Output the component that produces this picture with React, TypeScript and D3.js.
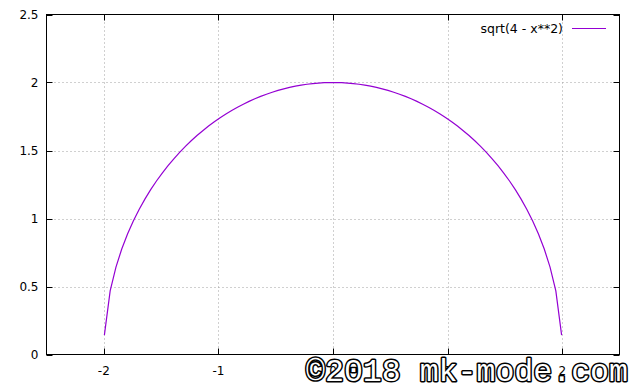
import React from "react";
import * as d3 from "d3";

const xTicks = [-2, -1, 0, 1, 2];
const yTicks = [0, 0.5, 1, 1.5, 2, 2.5];
const yTickLabels = ["0", "0.5", "1", "1.5", "2", "2.5"];
const xTickLabels = ["-2", "-1", "0", "1", "2"];
const seriesName = "sqrt(4 - x**2)";

const xs = [
  -1.99495, -1.94444, -1.89394, -1.84343, -1.79293, -1.74242, -1.69192, -1.64141, -1.59091, -1.5404,
  -1.4899, -1.43939, -1.38889, -1.33838, -1.28788, -1.23737, -1.18687, -1.13636, -1.08586, -1.03535,
  -0.98485, -0.93434, -0.88384, -0.83333, -0.78283, -0.73232, -0.68182, -0.63131, -0.58081, -0.5303,
  -0.4798, -0.42929, -0.37879, -0.32828, -0.27778, -0.22727, -0.17677, -0.12626, -0.07576, -0.02525,
  0.02525, 0.07576, 0.12626, 0.17677, 0.22727, 0.27778, 0.32828, 0.37879, 0.42929, 0.4798,
  0.5303, 0.58081, 0.63131, 0.68182, 0.73232, 0.78283, 0.83333, 0.88384, 0.93434, 0.98485,
  1.03535, 1.08586, 1.13636, 1.18687, 1.23737, 1.28788, 1.33838, 1.38889, 1.43939, 1.4899,
  1.5404, 1.59091, 1.64141, 1.69192, 1.74242, 1.79293, 1.84343, 1.89394, 1.94444, 1.99495,
];
const ys = [
  0.1421, 0.4681, 0.6426, 0.7757, 0.8862, 0.9818, 1.0665, 1.1427, 1.212, 1.2756,
  1.3342, 1.3886, 1.4391, 1.4862, 1.5301, 1.5713, 1.6098, 1.6458, 1.6796, 1.7112,
  1.7407, 1.7683, 1.7941, 1.8181, 1.8404, 1.8611, 1.8802, 1.8977, 1.9138, 1.9284,
  1.9416, 1.9534, 1.9638, 1.9729, 1.9806, 1.987, 1.9922, 1.996, 1.9986, 1.9998,
  1.9998, 1.9986, 1.996, 1.9922, 1.987, 1.9806, 1.9729, 1.9638, 1.9534, 1.9416,
  1.9284, 1.9138, 1.8977, 1.8802, 1.8611, 1.8404, 1.8181, 1.7941, 1.7683, 1.7407,
  1.7112, 1.6796, 1.6458, 1.6098, 1.5713, 1.5301, 1.4862, 1.4391, 1.3886, 1.3342,
  1.2756, 1.212, 1.1427, 1.0665, 0.9818, 0.8862, 0.7757, 0.6426, 0.4681, 0.1421,
];

const W = 640;
const H = 384;
const L = 46.5, R = 619.5, T = 14.5, B = 354.5;
const font = "'DejaVu Sans', sans-serif";

export default function App() {
  const x = d3.scaleLinear().domain([-2.5, 2.5]).range([L, R]);
  const y = d3.scaleLinear().domain([0, 2.5]).range([B, T]);
  const pts: [number, number][] = xs.map((v, i) => [v, ys[i]]);
  const line = d3
    .line<[number, number]>()
    .x((d) => x(d[0]))
    .y((d) => y(d[1]));
  const tl = 6;
  return (
    <svg
      width={W}
      height={H}
      style={{ position: "absolute", left: 0, top: 0, background: "#fff" }}
    >
      <rect x={0} y={0} width={W} height={H} fill="#fff" />
      {/* grid */}
      {xTicks.map((t) => (
        <line
          key={"gx" + t}
          x1={Math.round(x(t)) + 0.5}
          x2={Math.round(x(t)) + 0.5}
          y1={T}
          y2={B}
          stroke="#a0a0a0"
          strokeWidth={1}
          strokeDasharray="1,3"
        />
      ))}
      {yTicks
        .filter((t) => t > 0 && t < 2.5)
        .map((t) => (
          <line
            key={"gy" + t}
            x1={L}
            x2={R}
            y1={Math.round(y(t)) + 0.5}
            y2={Math.round(y(t)) + 0.5}
            stroke="#a0a0a0"
            strokeWidth={1}
            strokeDasharray="1,3"
          />
        ))}
      {/* ticks */}
      {xTicks.map((t) => {
        const px = Math.round(x(t)) + 0.5;
        return (
          <g key={"tx" + t}>
            <line x1={px} x2={px} y1={B} y2={B - tl} stroke="#000" />
            <line x1={px} x2={px} y1={T} y2={T + tl} stroke="#000" />
          </g>
        );
      })}
      {yTicks.map((t) => {
        const py = Math.round(y(t)) + 0.5;
        return (
          <g key={"ty" + t}>
            <line x1={L} x2={L + tl} y1={py} y2={py} stroke="#000" />
            <line x1={R} x2={R - tl} y1={py} y2={py} stroke="#000" />
          </g>
        );
      })}
      {/* border */}
      <rect x={L} y={T} width={R - L} height={B - T} fill="none" stroke="#000" strokeWidth={1} />
      {/* tick labels */}
      {yTicks.map((t, i) => (
        <text
          key={"ly" + t}
          x={L - 8}
          y={y(t)}
          dy="0.36em"
          textAnchor="end"
          fontFamily={font}
          fontSize={12}
          fill="#000"
        >
          {yTickLabels[i]}
        </text>
      ))}
      {xTicks.map((t, i) => (
        <text
          key={"lx" + t}
          x={x(t)}
          y={B + 20}
          textAnchor="middle"
          fontFamily={font}
          fontSize={12}
          fill="#000"
        >
          {xTickLabels[i]}
        </text>
      ))}
      {/* curve */}
      <path d={line(pts) || ""} fill="none" stroke="#9400d3" strokeWidth={1.2} />
      {/* legend */}
      <text x={563} y={33} textAnchor="end" fontFamily={font} fontSize={12.5} fill="#000">
        {seriesName}
      </text>
      <line x1={572} x2={606} y1={28.5} y2={28.5} stroke="#9400d3" strokeWidth={1.2} />
      {/* watermark */}
      <text
        x={306}
        y={381}
        fontFamily="'Liberation Mono', monospace"
        fontSize={31.5}
        fill="#fff"
        stroke="#000"
        strokeWidth={3}
        paintOrder="stroke"
        strokeLinejoin="round"
        textLength={322}
        lengthAdjust="spacingAndGlyphs"
      >
        ©2018 mk-mode.com
      </text>
    </svg>
  );
}
